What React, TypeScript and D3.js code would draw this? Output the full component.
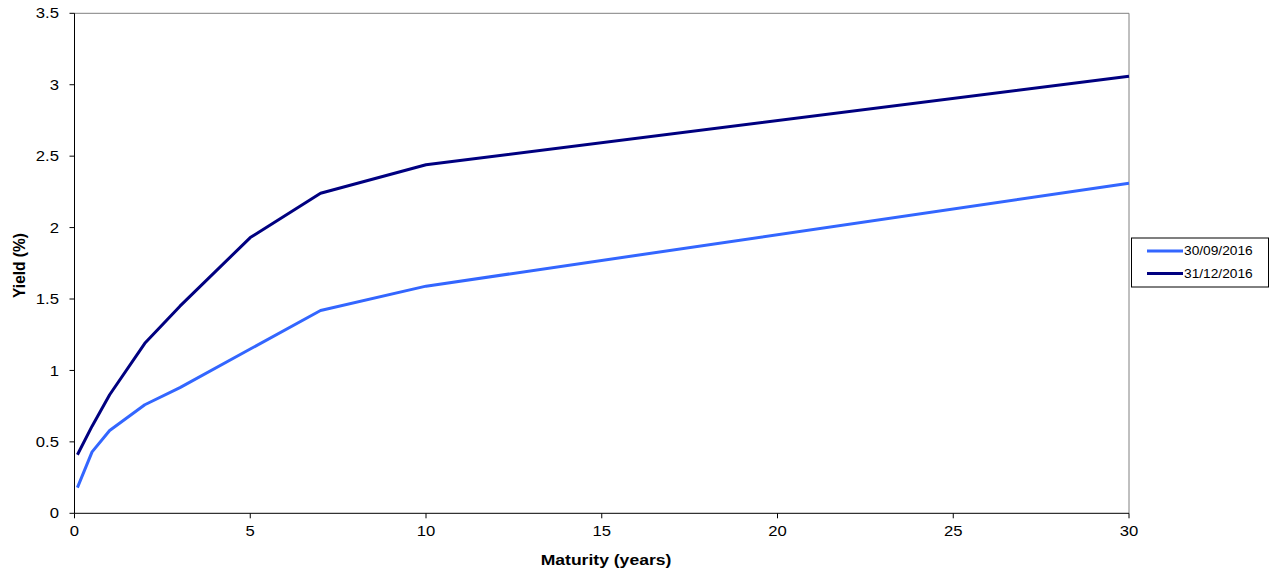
import React from "react";
import * as d3 from "d3";

const maturities = [0.083, 0.5, 1, 2, 3, 5, 7, 10, 30];
const yieldsSep = [0.18, 0.43, 0.58, 0.76, 0.88, 1.15, 1.42, 1.59, 2.31];
const yieldsDec = [0.41, 0.61, 0.83, 1.19, 1.45, 1.93, 2.24, 2.44, 3.06];
const seriesNames = ["30/09/2016", "31/12/2016"];
const seriesColors = ["#3366FF", "#000080"];
const xTicks = [0, 5, 10, 15, 20, 25, 30];
const yTicks = [0, 0.5, 1, 1.5, 2, 2.5, 3, 3.5];

export default function App() {
  const W = 1274, H = 574;
  const left = 74.5, right = 1129, top = 13.3, bottom = 513.3;
  const x = d3.scaleLinear().domain([0, 30]).range([left, right]);
  const y = d3.scaleLinear().domain([0, 3.5]).range([bottom, top]);
  const line = d3.line<number>().x((_, i) => x(maturities[i])).y((d) => y(d));
  const series = [yieldsSep, yieldsDec];
  const font = "'Liberation Sans', Arial, sans-serif";
  const sx = 1.15;
  return (
    <svg width={W} height={H} style={{ position: "absolute", left: 0, top: 0 }} fontFamily={font}>
      <rect x={0} y={0} width={W} height={H} fill="#fff" />
      <line x1={left} x2={right} y1={top} y2={top} stroke="#808080" strokeWidth={1} />
      <line x1={right} x2={right} y1={top} y2={bottom} stroke="#808080" strokeWidth={1} />
      <line x1={left} x2={left} y1={top} y2={bottom} stroke="#000" strokeWidth={1} />
      <line x1={left} x2={right} y1={bottom} y2={bottom} stroke="#000" strokeWidth={1} />
      {yTicks.map((t) => (
        <g key={"y" + t}>
          <line x1={left - 5} x2={left} y1={y(t)} y2={y(t)} stroke="#000" />
          <text transform={`translate(${left - 15.5},${y(t)}) scale(${sx},1)`} dy="0.35em" textAnchor="end" fontSize={14.5}>{t}</text>
        </g>
      ))}
      {xTicks.map((t) => (
        <g key={"x" + t}>
          <line x1={x(t)} x2={x(t)} y1={bottom} y2={bottom + 5} stroke="#000" />
          <text transform={`translate(${x(t)},${bottom + 23}) scale(${sx},1)`} textAnchor="middle" fontSize={14.5}>{t}</text>
        </g>
      ))}
      {series.map((s, i) => (
        <path key={i} d={line(s) || ""} fill="none" stroke={seriesColors[i]} strokeWidth={3} strokeLinejoin="round" />
      ))}
      <text transform={`translate(606,565) scale(1.17,1)`} textAnchor="middle" fontSize={15} fontWeight="bold">Maturity (years)</text>
      <text transform={`translate(25,265.5) rotate(-90) scale(1,1.1)`} textAnchor="middle" fontSize={15.5} fontWeight="bold">Yield (%)</text>
      <rect x={1131.5} y={238} width={137} height={49} fill="#fff" stroke="#000" strokeWidth={1} />
      {seriesNames.map((n, i) => (
        <g key={n}>
          <line x1={1147} x2={1183} y1={251 + i * 22.5} y2={251 + i * 22.5} stroke={seriesColors[i]} strokeWidth={3} />
          <text transform={`translate(1184,${251 + i * 22.5}) scale(1.1,1)`} dy="0.35em" fontSize={12.5}>{n}</text>
        </g>
      ))}
    </svg>
  );
}
